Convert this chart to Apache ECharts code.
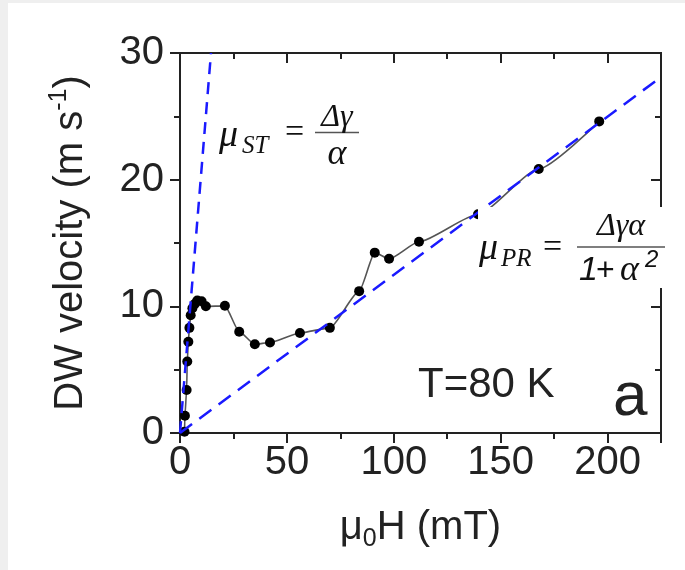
<!DOCTYPE html>
<html>
<head>
<meta charset="utf-8">
<script src="https://cdn.jsdelivr.net/npm/echarts@6/dist/echarts.min.js"></script>
<style>
  html, body { margin: 0; padding: 0; background: #efefef; }
  #chart { width: 685px; height: 570px; }
</style>
</head>
<body>
<div id="chart"></div>
<script>
// measured points: field (mT) and wall velocity (m/s)
const fieldMT = [2.1, 2.3, 3.1, 3.4, 3.9, 4.4, 5.0, 5.8, 7.0, 8.1, 10.1, 12.1, 21.0, 27.7, 35.0, 42.1, 56.1, 70.1, 83.8, 91.1, 97.8, 111.8, 139.4, 167.8, 196.1];
const velocity = [0.1, 1.36, 3.4, 5.65, 7.2, 8.3, 9.3, 9.85, 10.2, 10.46, 10.4, 10.0, 10.04, 8.0, 7.0, 7.15, 7.9, 8.3, 11.2, 14.24, 13.75, 15.1, 17.27, 20.84, 24.6];

// guide lines (end points in data units)
const stLine = [[0, 0], [14.5, 30]];
const prLine = [[0, 0], [225, 28.1]];

const xTicks = [0, 50, 100, 150, 200];
const yTicks = [0, 10, 20, 30];

const FONT = '"Liberation Sans", Arial, sans-serif';
const SERIF = '"Liberation Serif", "Times New Roman", serif';
const BLUE = '#1a1aff';
const INK = '#222';

const chart = echarts.init(document.getElementById('chart'));

const tickStyle = { color: INK, width: 2 };

// one side of the box frame; labelled sides get outside ticks, the others inside
const frameAxis = (position, labelled, tickLen) => ({
  type: 'value',
  position,
  axisLine: { show: true, onZero: false, lineStyle: { color: INK, width: 2 } },
  axisTick: { show: true, inside: !labelled, length: tickLen, lineStyle: tickStyle },
  splitLine: { show: false },
  axisLabel: { show: false },
});

const xRange = { min: 0, max: 225 };
const yRange = { min: 0, max: 30 };

const txt = (x, y, text, font, extra) => ({
  type: 'text', z: 101, x, y,
  style: Object.assign({ text, font, fill: '#111', verticalAlign: 'middle', align: 'left' }, extra || {}),
});

const option = {
  backgroundColor: '#efefef',
  animation: false,
  grid: { left: 180, top: 53, right: 24, bottom: 137 },
  xAxis: [
    Object.assign(frameAxis('bottom', true, 10), xRange, {
      interval: 50,
      axisLabel: {
        show: true, fontSize: 40, fontFamily: FONT, color: INK, margin: 10,
        formatter: (v) => (xTicks.includes(v) ? String(v) : ''),
      },
      name: 'μ{sub|0}H (mT)', nameLocation: 'middle', nameGap: 70,
      nameTextStyle: {
        fontSize: 40, fontFamily: FONT, color: INK,
        rich: { sub: { fontSize: 25, fontFamily: FONT, color: INK, padding: [24, 0, 0, 0] } },
      },
    }),
    Object.assign(frameAxis('top', false, 10), xRange, { interval: 50 }),
    // minor ticks
    Object.assign(frameAxis('bottom', true, 6), xRange, { interval: 25 }),
    Object.assign(frameAxis('top', false, 6), xRange, { interval: 25 }),
  ],
  yAxis: [
    Object.assign(frameAxis('left', true, 10), yRange, {
      interval: 10,
      axisLabel: {
        show: true, fontSize: 40, fontFamily: FONT, color: INK, margin: 16,
        formatter: (v) => (yTicks.includes(v) ? String(v) : ''),
      },
      name: 'DW velocity (m s{sup|-1})', nameLocation: 'middle', nameGap: 86,
      nameTextStyle: {
        fontSize: 40, fontFamily: FONT, color: INK,
        rich: { sup: { fontSize: 25, fontFamily: FONT, color: INK, padding: [0, 0, 22, 0] } },
      },
    }),
    Object.assign(frameAxis('right', false, 10), yRange, { interval: 10 }),
    Object.assign(frameAxis('left', true, 6), yRange, { interval: 5 }),
    Object.assign(frameAxis('right', false, 6), yRange, { interval: 5 }),
  ],
  series: [
    {
      type: 'line',
      data: fieldMT.map((x, i) => [x, velocity[i]]),
      smooth: 0.2,
      smoothMonotone: 'x',
      symbol: 'circle',
      symbolSize: 10,
      itemStyle: { color: '#000' },
      lineStyle: { color: '#555', width: 1.6 },
      z: 3,
    },
    {
      type: 'line', data: stLine, symbol: 'none', z: 4,
      lineStyle: { color: BLUE, width: 2.5, type: [12, 8] },
    },
    {
      type: 'line', data: prLine, symbol: 'none', z: 4,
      lineStyle: { color: BLUE, width: 2.5, type: [15, 9] },
    },
  ],
  graphic: [
    { type: 'rect', z: -10, shape: { x: 8, y: 3, width: 677, height: 567 }, style: { fill: '#fff' } },
    // white patch behind the PR formula
    { type: 'rect', z: 100, shape: { x: 478, y: 207, width: 189, height: 81 }, style: { fill: '#fff' } },

    txt(219, 136, 'μ', 'italic 38px ' + SERIF),
    txt(242, 146, 'ST', 'italic 25px ' + SERIF),
    txt(285, 133, '=', '34px ' + SERIF),
    { type: 'line', z: 101, shape: { x1: 315, y1: 132.5, x2: 359, y2: 132.5 }, style: { stroke: '#555', lineWidth: 1.5 } },
    txt(337, 118, 'Δγ', 'italic 32px ' + SERIF, { align: 'center' }),
    txt(337, 155, 'α', 'italic 36px ' + SERIF, { align: 'center' }),

    txt(479, 249, 'μ', 'italic 38px ' + SERIF),
    txt(501, 259, 'PR', 'italic 25px ' + SERIF),
    txt(543, 248, '=', '34px ' + SERIF),
    { type: 'line', z: 101, shape: { x1: 577, y1: 247, x2: 665, y2: 247 }, style: { stroke: '#555', lineWidth: 1.5 } },
    txt(621, 227, 'Δγα', 'italic 32px ' + SERIF, { align: 'center' }),
    txt(579, 271, '1', 'italic 34px ' + FONT),
    txt(596, 271, '+', '32px ' + FONT),
    txt(620, 271, 'α', 'italic 36px ' + SERIF),
    txt(645, 260, '2', 'italic 24px ' + FONT),

    txt(418, 385, 'T=80 K', '42px ' + FONT, { fill: INK }),
    txt(613, 398, 'a', '62px ' + FONT, { fill: INK }),
  ],
};

chart.setOption(option);
</script>
</body>
</html>
